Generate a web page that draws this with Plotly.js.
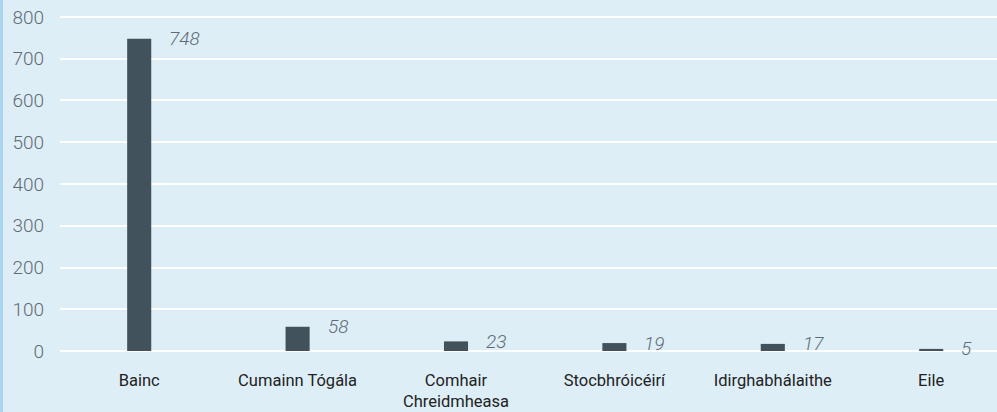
<!DOCTYPE html>
<html>
<head>
<meta charset="utf-8">
<script src="https://cdn.plot.ly/plotly-3.0.1.min.js"></script>
<style>html,body{margin:0;padding:0;background:#deeef7;}#chart{width:997px;height:412px;}</style>
</head>
<body>
<div id="chart"></div>
<script>
const categories = ["Bainc", "Cumainn Tógála", "Comhair<br>Chreidmheasa", "Stocbhróicéirí", "Idirghabhálaithe", "Eile"];
const values = [748, 58, 23, 19, 17, 5];
const yTickValues = [0, 100, 200, 300, 400, 500, 600, 700, 800];

const W = 997, ML = 60, MR = 0;
const plotW = W - ML - MR;
const band = 158.4;
const xMax = -0.5 + plotW / band;

const annotations = values.map((v, i) => ({
  x: i, y: v, xref: 'x', yref: 'y',
  text: String(v), showarrow: false,
  xanchor: 'left', yanchor: 'middle', xshift: 28,
  font: {family: 'Roboto, Arial, sans-serif', size: 19, color: '#5e6b74', style: 'italic', weight: 300}
}));

const trace = {
  type: 'bar', x: categories.map((c, i) => i), y: values,
  width: 0.152,
  marker: {color: '#42525c'},
  hoverinfo: 'skip'
};

const layout = {
  width: 997, height: 412,
  margin: {l: ML, r: MR, t: 0, b: 61, pad: 0},
  paper_bgcolor: '#deeef7', plot_bgcolor: '#deeef7',
  showlegend: false,
  xaxis: {
    range: [-0.5, xMax], tickmode: 'array', tickvals: categories.map((c, i) => i), ticktext: categories,
    showgrid: false, zeroline: false, showline: false, ticks: '',
    ticklabelstandoff: 17,
    tickfont: {family: 'Roboto, Arial, sans-serif', size: 16.5, color: '#222222'},
    fixedrange: true
  },
  yaxis: {
    range: [0, 840.7], tickmode: 'array', tickvals: yTickValues,
    showgrid: true, gridcolor: '#ffffff', gridwidth: 2,
    zeroline: true, zerolinecolor: '#ffffff', zerolinewidth: 2,
    showline: false, ticks: '', ticklabelstandoff: 15,
    tickfont: {family: 'Roboto, Arial, sans-serif', size: 19, color: '#5e6b74', weight: 300},
    fixedrange: true
  },
  annotations: annotations,
  shapes: [{type: 'rect', xref: 'paper', yref: 'paper', x0: -ML / plotW, x1: -(ML - 3) / plotW, y0: -61 / 351, y1: 1, fillcolor: '#a9d5f0', line: {width: 0}}]
};

Plotly.newPlot('chart', [trace], layout, {displayModeBar: false, staticPlot: true});
</script>
</body>
</html>
